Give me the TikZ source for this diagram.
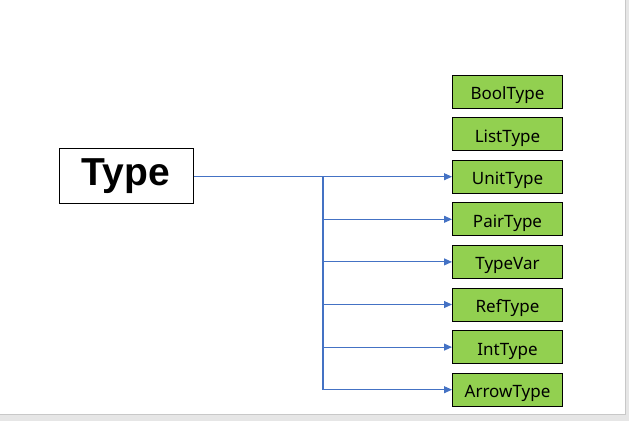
\documentclass[tikz,border=0pt]{standalone}
\usepackage{fontspec}
\setmainfont{Noto Sans}
\newfontfamily\typefont{Liberation Sans}
\usetikzlibrary{arrows.meta}
\definecolor{linkblue}{HTML}{4472C4}
\definecolor{boxgreen}{HTML}{92D050}
\definecolor{edgegray}{HTML}{C8C8C8}
\definecolor{stripgray}{HTML}{E6E6E6}
\tikzset{
  leafbox/.style={draw=black, line width=1pt, fill=boxgreen, minimum width=110pt, minimum height=33pt, inner sep=0pt, text height=16pt, text depth=0pt, font=\fontsize{17}{19}\selectfont},
  rootbox/.style={draw=black, line width=1pt, fill=white, minimum width=134pt, minimum height=55pt, inner sep=0pt, text height=19pt, text depth=0pt, font=\typefont\bfseries\fontsize{39}{42}\selectfont},
  trunkline/.style={draw=linkblue, line width=1.2pt},
  branch/.style={draw=linkblue, line width=1pt, -{Triangle[length=8pt,width=7pt]}}
}
\begin{document}
\begin{tikzpicture}[x=1pt,y=-1pt]
\useasboundingbox (0,0) rectangle (629,421);
% window border
\fill[stripgray] (625,0) rectangle (629,421);
\fill[stripgray] (0,414) rectangle (629,421);
\draw[edgegray, line width=1pt] (625,0) -- (625,414) -- (0,414);
% nodes
\node[rootbox] (type) at (126,176.2) {Type};
\node[leafbox] (bool) at (507.5,91.5) {BoolType};
\node[leafbox] (list) at (507.5,134.1) {ListType};
\node[leafbox] (unit) at (507.5,176.7) {UnitType};
\node[leafbox] (pair) at (507.5,219.3) {PairType};
\node[leafbox] (tvar) at (507.5,261.9) {TypeVar};
\node[leafbox] (ref) at (507.5,304.5) {RefType};
\node[leafbox] (int) at (507.5,347.1) {IntType};
\node[leafbox] (arrow) at (507.5,389.7) {ArrowType};
% connectors
\coordinate (jt) at (323,176.7);
\coordinate (jb) at (323,389.7);
\draw[trunkline] (type.east |- jt) -- (jt) -- (jb);
\foreach \n in {unit,pair,tvar,ref,int,arrow}
  \draw[branch] (jt |- \n.west) -- (\n.west);
\end{tikzpicture}
\end{document}
